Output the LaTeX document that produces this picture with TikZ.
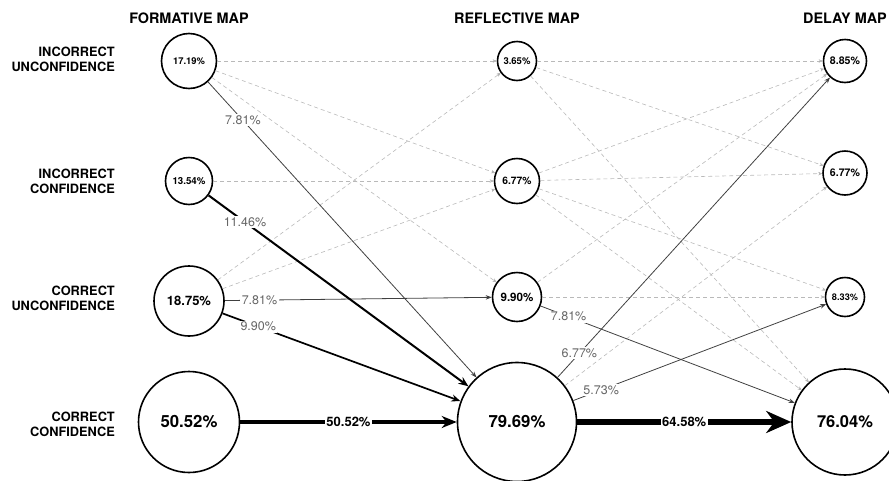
\documentclass[tikz,border=0pt]{standalone}
\usepackage{fontspec}
\setmainfont{TeX Gyre Heros}
\usetikzlibrary{positioning, arrows.meta}

\begin{document}
\begin{tikzpicture}[x=1pt, y=-1pt]
	\tikzset{
	>={Stealth[length=6pt, width=4.5pt]}, % small heads for the thin flows
	node distance=328pt, % one map column to the next
	map/.style 2 args={circle, draw, line width=1.6pt, inner sep=0pt, minimum size=#1, font=\bfseries\fontsize{#2}{#2}\selectfont}, % one answer class
	head/.style={font=\bfseries\fontsize{14.4}{16}\selectfont},
	row/.style={align=right, anchor=east, inner sep=0pt, font=\bfseries\fontsize{12.8}{15}\selectfont},
	maybe/.style={-{Stealth[length=4pt, width=3.5pt]}, draw=gray!55, dash pattern=on 4pt off 3pt, line width=0.6pt},
	flow/.style={->, draw=black!75, line width=0.8pt},
	heavy/.style n args={3}{draw=black, line width=#1, -{Stealth[length=#2, width=#3]}},
	pct/.style={fill=white, inner sep=1.5pt, text=black!60, font=\fontsize{12.5}{14}\selectfont},
	bigpct/.style={fill=white, inner sep=1.5pt, text=black, font=\bfseries\fontsize{13}{14}\selectfont}
	}
	\clip (0,0) rectangle (889,480);

	% column heads
	\node[head] (formative) at (189,18) {FORMATIVE MAP};
	\node[head] (reflective) at (517,18) {REFLECTIVE MAP};
	\node[head] (delay) at (845,18) {DELAY MAP};

	% row names
	\node[row] (iu) at (115,59) {INCORRECT\\UNCONFIDENCE};
	\node[row] (ic) at (115,181) {INCORRECT\\CONFIDENCE};
	\node[row] (cu) at (115,298) {CORRECT\\UNCONFIDENCE};
	\node[row] (cc) at (115,424) {CORRECT\\CONFIDENCE};

	% formative map
	\node[map={55pt}{9.4}] (f1) at (189,61) {17.19\%};
	\node[map={47pt}{9.7}] (f2) at (189,181) {13.54\%};
	\node[map={70pt}{13}] (f3) at (189,301) {18.75\%};
	\node[map={101pt}{16.8}] (f4) at (189,422) {50.52\%};

	% reflective map
	\node[map={39pt}{9.5}, right of=f1] (r1) {3.65\%};
	\node[map={45pt}{10.3}, right of=f2] (r2) {6.77\%};
	\node[map={49pt}{11.6}, right of=f3, yshift=4pt] (r3) {9.90\%};
	\node[map={119pt}{16.8}, right of=f4] (r4) {79.69\%};

	% delay map
	\node[map={43pt}{10.6}, right of=r1] (d1) {8.85\%};
	\node[map={44pt}{10.6}, right of=r2, yshift=8pt] (d2) {6.77\%};
	\node[map={39pt}{9.2}, right of=r3] (d3) {8.33\%};
	\node[map={106pt}{16.5}, right of=r4] (d4) {76.04\%};

	% the small moves, dashed
	\draw[maybe]
	(f1) edge (r1)
	(f1) edge (r2)
	(f1) edge (r3)
	(f2) edge (r2)
	(f3) edge (r1)
	(f3) edge (r2)

	(r1) edge (d1)
	(r1) edge (d2)
	(r1) edge (d4)
	(r2) edge (d1)
	(r2) edge (d2)
	(r2) edge (d3)
	(r2) edge (d4)
	(r3) edge (d1)
	(r3) edge (d3)
	(r4) edge (d2)
	;

	% the main moves
	\draw[flow]
	(f1) edge node[pct, pos=0.13] {7.81\%} (r4)
	(f3) edge node[pct, pos=0.13] {7.81\%} (r3)
	(r3) edge node[pct, pos=0.11] {7.81\%} (d4)
	(r4) edge node[pct, pos=0.08] {6.77\%} (d1)
	(r4) edge node[pct, pos=0.11] {5.73\%} (d3)
	;
	\draw[heavy={2pt}{10pt}{8pt}] (f2) -- node[pct, pos=0.14] {11.46\%} (r4);
	\draw[heavy={1.7pt}{9pt}{7pt}] (f3) -- node[pct, pos=0.15] {9.90\%} (r4);
	\draw[heavy={3.2pt}{15pt}{12pt}] (f4) -- node[bigpct] {50.52\%} (r4);
	\draw[heavy={6pt}{25pt}{22pt}] (r4) -- node[bigpct] {64.58\%} (d4);
\end{tikzpicture}
\end{document}
